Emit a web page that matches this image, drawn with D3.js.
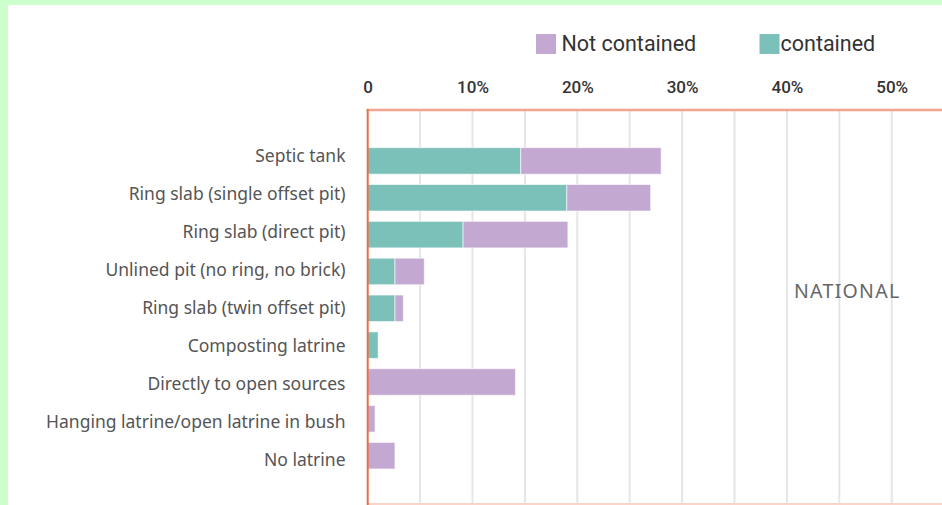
<!DOCTYPE html>
<html>
<head>
<meta charset="utf-8">
<script src="https://cdn.jsdelivr.net/npm/d3@7"></script>
<style>
  html, body { margin: 0; padding: 0; background: #ccffcc; }
  svg { display: block; }
</style>
</head>
<body>
<svg id="chart" width="942" height="505"></svg>
<script>
const categories = [
  "Septic tank",
  "Ring slab (single offset pit)",
  "Ring slab (direct pit)",
  "Unlined pit (no ring, no brick)",
  "Ring slab (twin offset pit)",
  "Composting latrine",
  "Directly to open sources",
  "Hanging latrine/open latrine in bush",
  "No latrine"
];
const contained    = [14.6, 19.0, 9.1, 2.6, 2.6, 1.0, 0, 0, 0];
const notContained = [13.4, 8.0, 10.0, 2.8, 0.8, 0, 14.1, 0.7, 2.6];
const tickValues = [0, 10, 20, 30, 40, 50];
const tickLabels = ["0", "10%", "20%", "30%", "40%", "50%"];
const gridValues = [5, 10, 15, 20, 25, 30, 35, 40, 45, 50, 55];
const seriesNames = ["Not contained", "contained"];
const panelLabel = "NATIONAL";

const colors = { contained: "#7cc0ba", notContained: "#c3a8d1" };

const svg = d3.select("#chart");
const W = 942, H = 505;

// white panel
svg.append("rect").attr("x", 8).attr("y", 5).attr("width", W - 8).attr("height", H - 5).attr("fill", "#ffffff");

const x = d3.scaleLinear().domain([0, 60]).range([367.7, 996.5]);
const y = d3.scaleBand().domain(categories).range([142.5, 474.1]).paddingInner(0.28).paddingOuter(0.14);
const yLabel = d3.scalePoint().domain(categories).range([162.3, 465.7]);

const plotTop = 110, plotBottom = 504;

// gridlines
svg.append("g").selectAll("line").data(gridValues).join("line")
  .attr("x1", d => x(d)).attr("x2", d => x(d))
  .attr("y1", plotTop + 1).attr("y2", plotBottom)
  .attr("stroke", "#e6e6e6").attr("stroke-width", 2);

// bottom border
svg.append("line").attr("x1", x(0)).attr("x2", W).attr("y1", plotBottom).attr("y2", plotBottom)
  .attr("stroke", "#fbd3c8").attr("stroke-width", 2);

// top axis line
svg.append("line").attr("x1", x(0) - 1).attr("x2", W).attr("y1", plotTop).attr("y2", plotTop)
  .attr("stroke", "#f3a491").attr("stroke-width", 2.5);

// tick labels
const xAxis = d3.axisTop(x).tickValues(tickValues).tickFormat((d, i) => tickLabels[i]).tickSize(0).tickPadding(0);
const gx = svg.append("g").attr("transform", "translate(0,93)").call(xAxis);
gx.select(".domain").remove();
gx.selectAll("text")
  .attr("font-family", "Roboto, 'Liberation Sans', sans-serif")
  .attr("font-size", 17)
  .attr("font-weight", 500)
  .attr("fill", "#333")
  .attr("dy", 0);

// bars
const rows = categories.map((c, i) => ({ cat: c, contained: contained[i], notContained: notContained[i] }));
const g = svg.append("g");
g.selectAll("rect.c").data(rows.filter(d => d.contained > 0)).join("rect")
  .attr("class", "c")
  .attr("x", x(0)).attr("y", d => y(d.cat))
  .attr("width", d => x(d.contained) - x(0))
  .attr("height", y.bandwidth())
  .attr("fill", colors.contained)
  .attr("stroke", "rgba(255,255,255,0.6)").attr("stroke-width", 1);
g.selectAll("rect.n").data(rows.filter(d => d.notContained > 0)).join("rect")
  .attr("class", "n")
  .attr("x", d => x(d.contained)).attr("y", d => y(d.cat))
  .attr("width", d => x(d.contained + d.notContained) - x(d.contained))
  .attr("height", y.bandwidth())
  .attr("fill", colors.notContained)
  .attr("stroke", "rgba(255,255,255,0.6)").attr("stroke-width", 1);

// left axis line
svg.append("line").attr("x1", x(0)).attr("x2", x(0)).attr("y1", plotTop - 1).attr("y2", H)
  .attr("stroke", "#e5704c").attr("stroke-width", 2);

// category labels
svg.append("g").selectAll("text").data(categories).join("text")
  .attr("x", 345.5).attr("y", d => yLabel(d))
  .attr("text-anchor", "end")
  .attr("font-family", "'Noto Sans', 'DejaVu Sans', sans-serif")
  .attr("font-size", 17.5)
  .attr("fill", "#555")
  .text(d => d);

// panel label
svg.append("text").attr("x", 794).attr("y", 298.3)
  .attr("font-family", "'Noto Sans', sans-serif")
  .attr("font-size", 19.5)
  .attr("letter-spacing", 1.3)
  .attr("fill", "#666")
  .text(panelLabel);

// legend
const legend = [
  { name: seriesNames[0], color: colors.notContained, sx: 536, tx: 561.5 },
  { name: seriesNames[1], color: colors.contained, sx: 759.5, tx: 780.5 }
];
const lg = svg.append("g").selectAll("g").data(legend).join("g");
lg.append("rect").attr("x", d => d.sx).attr("y", 34).attr("width", 20).attr("height", 20).attr("fill", d => d.color);
lg.append("text").attr("x", d => d.tx).attr("y", 51)
  .attr("font-family", "Roboto, 'Liberation Sans', sans-serif")
  .attr("font-size", 21.5)
  .attr("fill", "#333")
  .text(d => d.name);
</script>
</body>
</html>
